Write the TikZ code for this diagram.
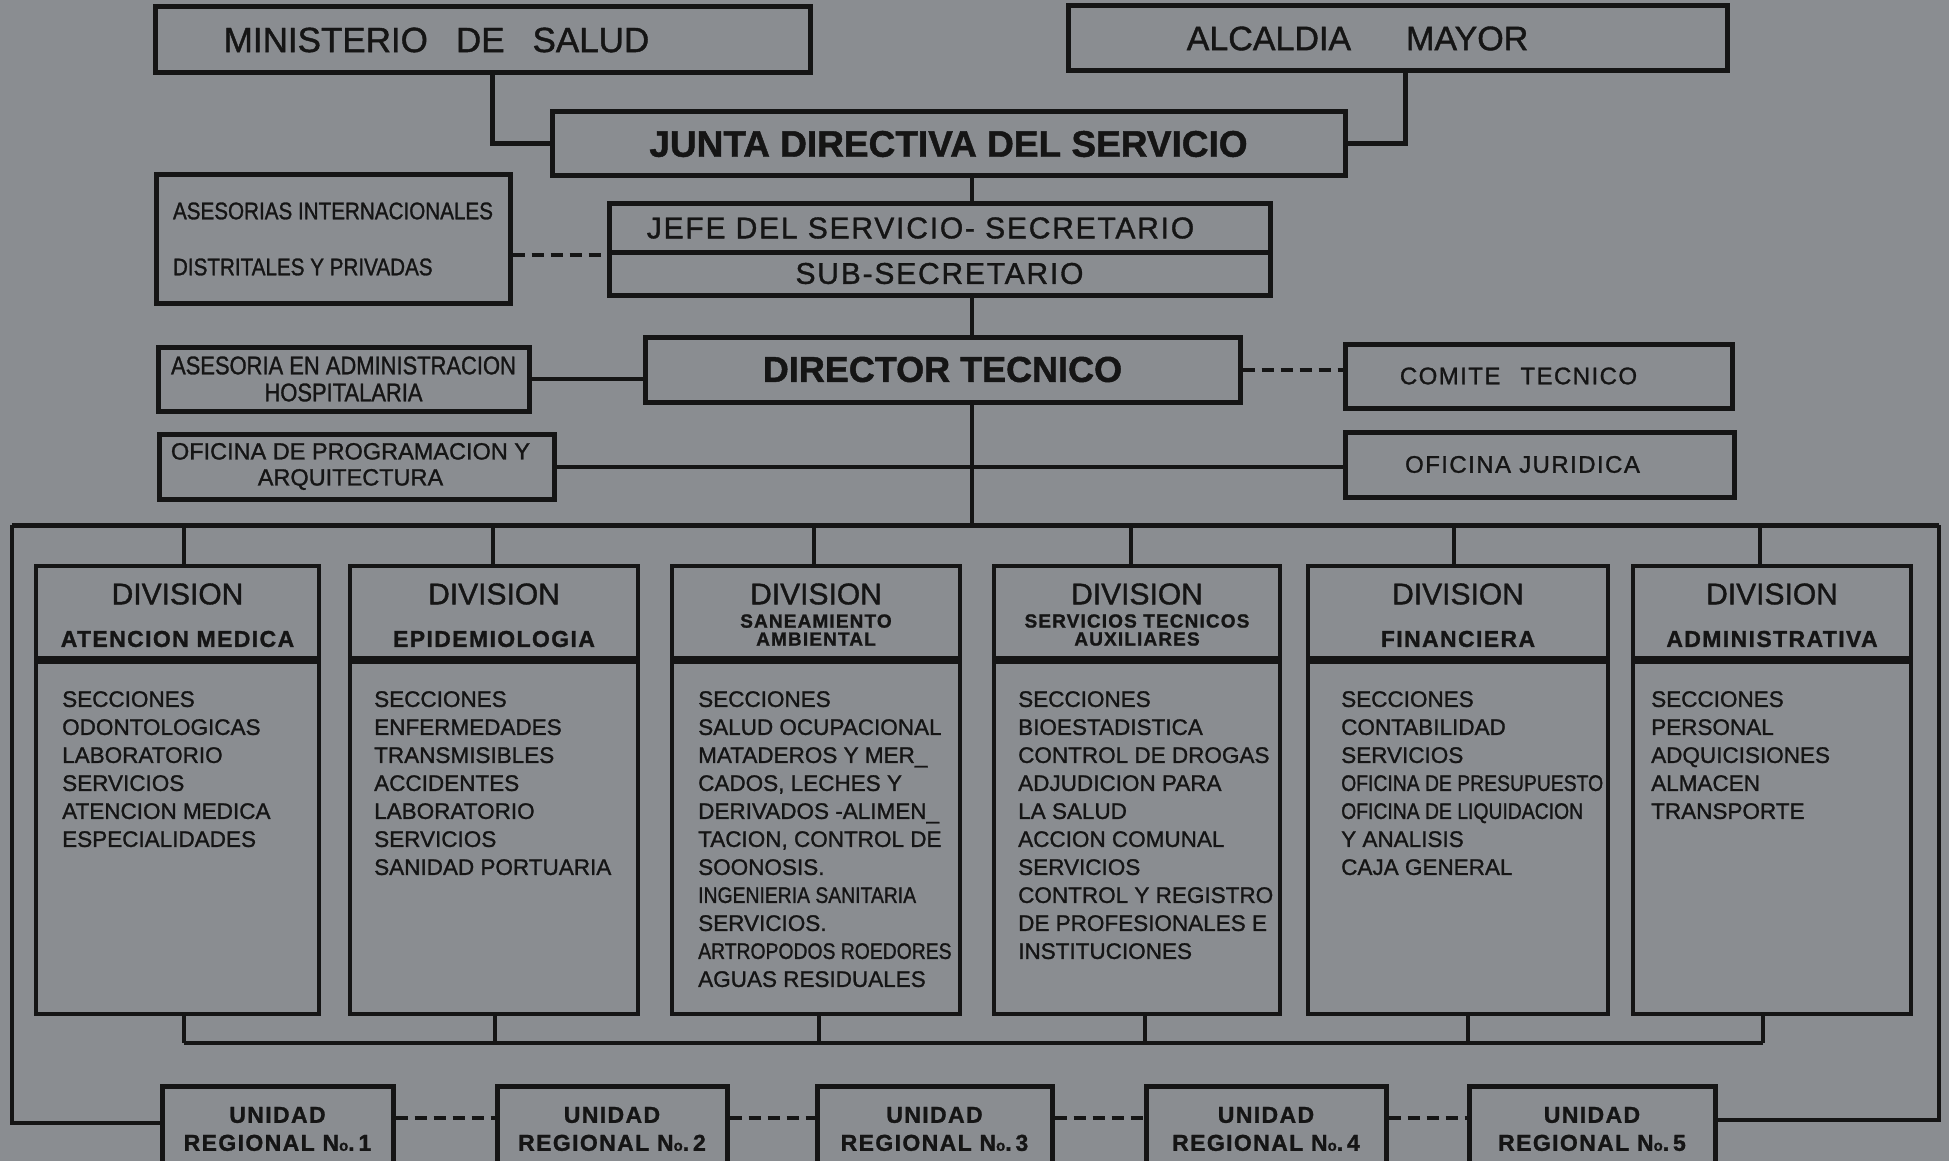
\documentclass[tikz,border=0pt]{standalone}
\usepackage{fontspec}
\setmainfont{Liberation Sans}[FakeBold=1.2]
\newfontfamily\narrowfont{Liberation Sans}[FakeStretch=0.86, FakeBold=1.2]
\newfontfamily\widefont{Liberation Sans}[LetterSpace=6, FakeBold=1.2]
\definecolor{paper}{HTML}{8A8D91}
\definecolor{ink}{HTML}{151515}
\newcommand{\unino}{N{\fontsize{15}{15}\selectfont o}}

\begin{document}
\begin{tikzpicture}[x=1pt, y=-1pt, color=ink,
  box/.style={draw, line width=5pt, inner sep=0pt},
  divbox/.style={draw, line width=4pt, inner sep=0pt},
  ubox/.style={draw, line width=5pt, inner sep=0pt, minimum height=86pt, align=center,
    font=\widefont\bfseries\fontsize{23}{28}\selectfont},
  link/.style={line width=4pt},
  dlink/.style={line width=4pt, dash pattern=on 12pt off 7pt},
  divtitle/.style={inner sep=0pt, font=\fontsize{30}{34}\selectfont},
  divsub/.style={inner sep=0pt, align=center, font=\widefont\bfseries\fontsize{23}{26}\selectfont},
  divsubsmall/.style={inner sep=0pt, align=center, font=\widefont\bfseries\fontsize{19}{18}\selectfont},
  divbody/.style={anchor=north west, inner sep=0pt, align=left, font=\fontsize{22.5}{28}\selectfont}
]
\path[use as bounding box, clip] (0,0) rectangle (1949,1161);
\fill[paper] (0,0) rectangle (1949,1161);

% top of the chart
\node[box, minimum width=655pt, minimum height=66pt, font=\fontsize{35}{40}\selectfont]
  (minsalud) at (482.5,40) {MINISTERIO\hspace{28pt}DE\hspace{28pt}SALUD\hspace*{92pt}};
\node[box, minimum width=659pt, minimum height=65pt, font=\fontsize{34}{40}\selectfont]
  (alcaldia) at (1397.5,38.5) {ALCALDIA\hspace{55pt}MAYOR\hspace*{80pt}};
\node[box, minimum width=793pt, minimum height=64pt, font=\bfseries\fontsize{37}{40}\selectfont]
  (junta) at (948.5,144) {JUNTA DIRECTIVA DEL SERVICIO};
\node[box, minimum width=661pt, minimum height=48pt, font=\widefont\fontsize{30}{34}\selectfont]
  (jefe) at (939.5,228) {JEFE DEL SERVICIO- SECRETARIO\hspace*{38pt}};
\node[box, minimum width=661pt, minimum height=43pt, font=\widefont\fontsize{30}{34}\selectfont]
  (subsec) at (939.5,273.5) {SUB-SECRETARIO};
\node[box, minimum width=354pt, minimum height=128pt, align=left, font=\narrowfont\fontsize{24}{56}\selectfont]
  (asesint) at (333,239) {ASESORIAS INTERNACIONALES\\DISTRITALES Y PRIVADAS};
\node[box, minimum width=595pt, minimum height=65pt, font=\bfseries\fontsize{36}{40}\selectfont]
  (dirtec) at (942.5,369.5) {DIRECTOR TECNICO};
\node[box, minimum width=371pt, minimum height=64pt, align=center, font=\narrowfont\fontsize{25.5}{27}\selectfont]
  (asesadm) at (343.5,379) {ASESORIA EN ADMINISTRACION\\HOSPITALARIA};
\node[box, minimum width=395pt, minimum height=65pt, align=center, font=\fontsize{23.5}{26}\selectfont]
  (ofprog) at (356.5,466.5) {OFICINA DE PROGRAMACION Y\hspace*{12pt}\\ARQUITECTURA\hspace*{12pt}};
\node[box, minimum width=387pt, minimum height=64pt, font=\widefont\fontsize{24}{28}\selectfont]
  (comite) at (1538.5,376) {COMITE\hspace{20pt}TECNICO\hspace*{40pt}};
\node[box, minimum width=389pt, minimum height=65pt, font=\widefont\fontsize{24}{28}\selectfont]
  (ofjur) at (1539.5,464.5) {OFICINA JURIDICA\hspace*{34pt}};

\coordinate (bus) at (972,525);
\coordinate (busL) at (12,525);
\coordinate (busR) at (1939,525);
\coordinate (lowbus) at (972,1043);

\draw[line width=5pt] ([xshift=9.5pt]minsalud.south) |- (junta.west);
\draw[line width=5pt] ([xshift=7.5pt]alcaldia.south) |- (junta.east);
\draw[link] (junta.south -| bus) -- (jefe.north -| bus);
\draw[dlink] (jefe.south west -| asesint.east) -- (jefe.south west);
\draw[link] (subsec.south -| bus) -- (dirtec.north -| bus);
\draw[link] (asesadm.east) -- (asesadm.east -| dirtec.west);
\draw[dlink] (dirtec.east) -- (dirtec.east -| comite.west);
\draw[link] (ofprog.east) -- (ofprog.east -| ofjur.west);
\draw[link] (dirtec.south -| bus) -- (bus);
\draw[line width=5pt] (busL) -- (busR);

% divisions
\foreach \n/\cx/\w/\tp/\bt in {1/177.5/283/6.5/6.5, 2/494/288/-1/1, 3/816/288/-2/3,
    4/1137/286/-6/8, 5/1458/300/-4/10, 6/1772/278/-12/-9}{
  \node[divbox, minimum width=\w pt, minimum height=92pt] (hd\n) at (\cx,612) {};
  \node[divbox, minimum width=\w pt, minimum height=352pt, anchor=north] (bd\n) at (hd\n.south) {};
  \node[divtitle] (dt\n) at ([yshift=-30pt]hd\n.north) {DIVISION};
  \draw[link] ([xshift=\tp pt]hd\n.north) -- ([xshift=\tp pt]hd\n.north |- bus);
  \draw[link] ([xshift=\bt pt]bd\n.south) -- ([xshift=\bt pt]bd\n.south |- lowbus);
}
\draw[link] ([xshift=6.5pt]bd1.south |- lowbus) -- ([xshift=-9pt]bd6.south |- lowbus);

\node[divsub] (st1) at ([yshift=-75pt]hd1.north) {ATENCION MEDICA};
\node[divsub] (st2) at ([yshift=-75pt]hd2.north) {EPIDEMIOLOGIA};
\node[divsubsmall] (st3) at ([yshift=-66pt]hd3.north) {SANEAMIENTO\\AMBIENTAL};
\node[divsubsmall] (st4) at ([yshift=-66pt]hd4.north) {SERVICIOS TECNICOS\\AUXILIARES};
\node[divsub] (st5) at ([yshift=-75pt]hd5.north) {FINANCIERA};
\node[divsub] (st6) at ([yshift=-75pt]hd6.north) {ADMINISTRATIVA};

\node[divbody] (sec1) at ([xshift=28pt, yshift=-31pt]bd1.north west)
  {SECCIONES\\ODONTOLOGICAS\\LABORATORIO\\SERVICIOS\\ATENCION MEDICA\\ESPECIALIDADES};
\node[divbody] (sec2) at ([xshift=26pt, yshift=-31pt]bd2.north west)
  {SECCIONES\\ENFERMEDADES\\TRANSMISIBLES\\ACCIDENTES\\LABORATORIO\\SERVICIOS\\SANIDAD PORTUARIA};
\node[divbody] (sec3) at ([xshift=28pt, yshift=-31pt]bd3.north west)
  {SECCIONES\\SALUD OCUPACIONAL\\MATADEROS Y MER\_\\CADOS, LECHES Y\\DERIVADOS -ALIMEN\_\\
   TACION, CONTROL DE\\SOONOSIS.\\{\narrowfont INGENIERIA SANITARIA}\\SERVICIOS.\\
   {\narrowfont ARTROPODOS ROEDORES}\\AGUAS RESIDUALES};
\node[divbody] (sec4) at ([xshift=26pt, yshift=-31pt]bd4.north west)
  {SECCIONES\\BIOESTADISTICA\\CONTROL DE DROGAS\\ADJUDICION PARA\\LA SALUD\\ACCION COMUNAL\\
   SERVICIOS\\CONTROL Y REGISTRO\\DE PROFESIONALES E\\INSTITUCIONES};
\node[divbody] (sec5) at ([xshift=35pt, yshift=-31pt]bd5.north west)
  {SECCIONES\\CONTABILIDAD\\SERVICIOS\\{\narrowfont OFICINA DE PRESUPUESTO}\\
   {\narrowfont OFICINA DE LIQUIDACION}\\Y ANALISIS\\CAJA GENERAL};
\node[divbody] (sec6) at ([xshift=20pt, yshift=-31pt]bd6.north west)
  {SECCIONES\\PERSONAL\\ADQUICISIONES\\ALMACEN\\TRANSPORTE};

% regional units
\foreach \n/\cx/\w in {1/277.5/231, 2/612/230, 3/934.5/235, 4/1266/240, 5/1592/246}
  \node[ubox, minimum width=\w pt] (u\n) at (\cx,1129) {UNIDAD\\REGIONAL \unino.\,\n};
\foreach \p/\q in {1/2, 2/3, 3/4, 4/5}
  \draw[dlink] ([yshift=11pt]u\p.east) -- ([yshift=11pt]u\q.west);
\draw[link] (busL) |- ([yshift=6pt]u1.west);
\draw[link] (busR) |- ([yshift=9pt]u5.east);
\end{tikzpicture}
\end{document}
